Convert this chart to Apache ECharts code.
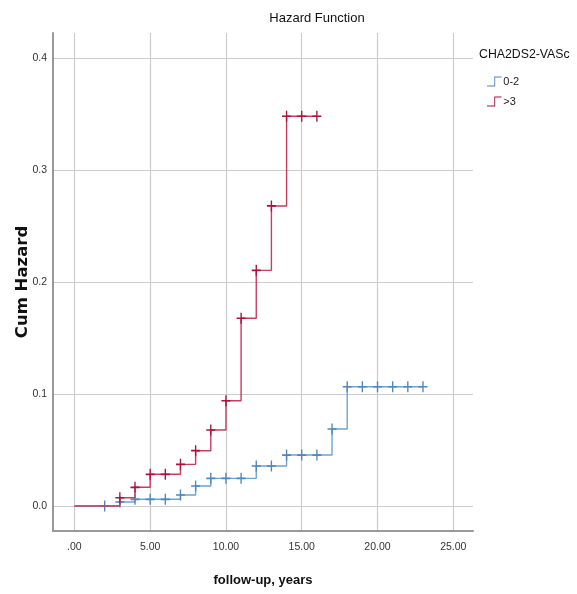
<!DOCTYPE html>
<html>
<head>
<meta charset="utf-8">
<script src="https://cdn.jsdelivr.net/npm/echarts@6/dist/echarts.min.js"></script>
<style>html,body{margin:0;padding:0;background:#fff}#c{width:577px;height:594px}</style>
</head>
<body>
<div id="c"></div>
<script>
var chartTitle = 'Hazard Function';
var legendTitle = 'CHA2DS2-VASc';
var groupNames = ['0-2', '>3'];
var xAxisName = 'follow-up, years';
var yAxisName = 'Cum Hazard';

var blueTimes  = [0, 2, 3, 4, 5, 6, 7, 8, 9, 10, 11, 12, 13, 14, 15, 16, 17, 18, 19, 20, 21, 22, 23];
var blueHazard = [0, 0, 0.0036, 0.006, 0.006, 0.006, 0.0098, 0.0179, 0.0247, 0.0247, 0.0247, 0.0357, 0.0357, 0.0455, 0.0455, 0.0455, 0.0688, 0.1065, 0.1065, 0.1065, 0.1065, 0.1065, 0.1065];
var redTimes   = [0, 3, 4, 5, 6, 7, 8, 9, 10, 11, 12, 13, 14, 15, 16];
var redHazard  = [0, 0.0074, 0.0167, 0.0283, 0.0283, 0.0372, 0.0494, 0.0679, 0.094, 0.1676, 0.2104, 0.2679, 0.348, 0.348, 0.348];

var SANS = '"Liberation Sans", Arial, sans-serif';
var plus = 'path://M-1.5,-10H1.5V-1.5H10V1.5H1.5V10H-1.5V1.5H-10V-1.5H-1.5Z';
var stepIcon = 'path://M0,10H8V0H16V1H9V11H0Z';

function pts(ts, hs) {
  return ts.map(function (t, i) {
    var item = { value: [t, hs[i]] };
    if (i === 0) item.symbol = 'none';
    return item;
  });
}

var chart = echarts.init(document.getElementById('c'), null, { renderer: 'canvas' });
chart.setOption({
  animation: false,
  backgroundColor: '#ffffff',
  title: [
    { text: chartTitle, left: 317, top: 12, textAlign: 'center', padding: 0,
      textStyle: { fontFamily: SANS, fontSize: 13, fontWeight: 'normal', color: '#111' } },
    { text: legendTitle, left: 479, top: 49, padding: 0,
      textStyle: { fontFamily: SANS, fontSize: 12.3, fontWeight: 'normal', color: '#111' } }
  ],
  legend: {
    orient: 'vertical', left: 487, top: 76, padding: 0,
    itemWidth: 16, itemHeight: 10, itemGap: 9,
    data: [
      { name: groupNames[0], icon: stepIcon },
      { name: groupNames[1], icon: stepIcon }
    ],
    textStyle: { fontFamily: SANS, fontSize: 11, color: '#222', padding: [0, 0, 0, -4] }
  },
  grid: { left: 53, right: 104, top: 33, bottom: 63, containLabel: false },
  xAxis: {
    type: 'value', min: -1.41, max: 26.3, splitNumber: 6,
    name: xAxisName, nameLocation: 'middle', nameGap: 43, nameMoveOverlap: false,
    nameTextStyle: { fontFamily: SANS, fontSize: 13, fontWeight: 'bold', color: '#111' },
    axisLine: { show: true, onZero: false, lineStyle: { color: '#9a9a9a', width: 2 } },
    axisTick: { show: false },
    axisLabel: { showMinLabel: false, showMaxLabel: false, margin: 11,
      fontFamily: SANS, fontSize: 10.5, color: '#333',
      formatter: function (v) { return v === 0 ? '.00' : v.toFixed(2); } },
    splitLine: { show: true, showMinLine: false, showMaxLine: false, lineStyle: { color: '#cccccc', width: 1.2 } }
  },
  yAxis: {
    type: 'value', min: -0.0223, max: 0.4223, splitNumber: 5,
    name: yAxisName, nameLocation: 'middle', nameGap: 22, nameMoveOverlap: false,
    nameTextStyle: { fontFamily: 'DejaVu Sans, sans-serif', fontSize: 16.5, fontWeight: 'bold', color: '#111' },
    axisLine: { show: true, onZero: false, lineStyle: { color: '#9a9a9a', width: 2 } },
    axisTick: { show: false },
    axisLabel: { showMinLabel: false, showMaxLabel: false, margin: 6,
      fontFamily: SANS, fontSize: 10.5, color: '#333',
      formatter: function (v) { return v.toFixed(1); } },
    splitLine: { show: true, showMinLine: false, showMaxLine: false, lineStyle: { color: '#cccccc', width: 1.2 } }
  },
  series: [
    {
      name: groupNames[0], type: 'line', step: 'end', z: 2,
      data: pts(blueTimes, blueHazard),
      showSymbol: true, showAllSymbol: true, symbol: plus, symbolSize: [9, 11],
      color: '#5b93c6',
      lineStyle: { color: '#6fa3d2', width: 1.4 },
      itemStyle: { color: '#4f86bd' }
    },
    {
      name: groupNames[1], type: 'line', step: 'end', z: 3,
      data: pts(redTimes, redHazard),
      showSymbol: true, showAllSymbol: true, symbol: plus, symbolSize: [9, 11],
      color: '#c03a5a',
      lineStyle: { color: '#c63d60', width: 1.4 },
      itemStyle: { color: '#a8123c' }
    }
  ]
});
</script>
</body>
</html>
